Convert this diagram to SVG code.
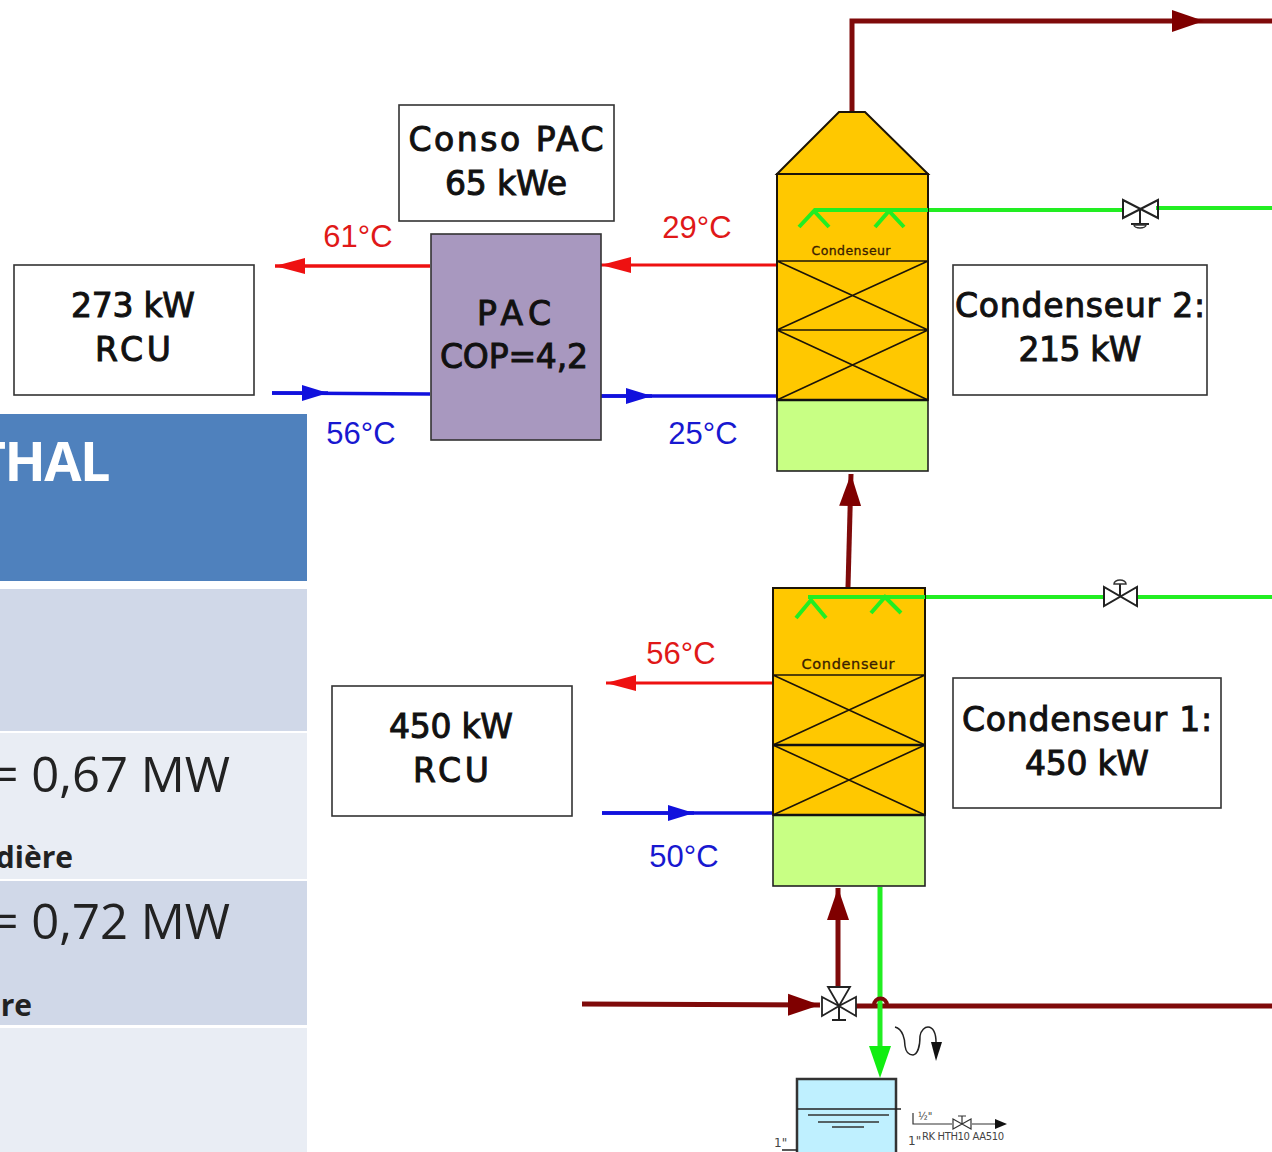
<svg xmlns="http://www.w3.org/2000/svg" width="1272" height="1152" viewBox="0 0 1272 1152">
<defs>
<marker id="ad" markerUnits="userSpaceOnUse" markerWidth="32" markerHeight="26" refX="32" refY="13" orient="auto"><path d="M0 2L32 13L0 24Z" fill="#7f0000"/></marker>
<marker id="ar" markerUnits="userSpaceOnUse" markerWidth="30" markerHeight="20" refX="30" refY="10" orient="auto"><path d="M0 2L30 10L0 18Z" fill="#ee1111"/></marker>
<marker id="ab" markerUnits="userSpaceOnUse" markerWidth="26" markerHeight="20" refX="26" refY="10" orient="auto"><path d="M0 2L26 10L0 18Z" fill="#1111dd"/></marker>
<marker id="ag" markerUnits="userSpaceOnUse" markerWidth="32" markerHeight="24" refX="4" refY="12" orient="auto"><path d="M0 1L32 12L0 23Z" fill="#11ee11"/></marker>
</defs>
<style>
text{font-family:"DejaVu Sans",sans-serif}
.lb{font-size:33px;fill:#111;stroke:#111;stroke-width:1;text-anchor:middle}
.t{font-size:31px;text-anchor:middle;font-family:"Liberation Sans",Arial,sans-serif}
.box{fill:#fff;stroke:#333;stroke-width:1.6}
.col{fill:#ffc800;stroke:#1c1408;stroke-width:2}
.base{fill:#c8ff84;stroke:#222;stroke-width:1.6}
.ln{fill:none;stroke:#1c1408;stroke-width:1.6}
.bk{fill:none;stroke:#222;stroke-width:2}
.dred{fill:none;stroke:#7f0a0a;stroke-width:5}
.red{fill:none;stroke:#ee1111;stroke-width:3.5}
.blue{fill:none;stroke:#1111dd;stroke-width:3.5}
.green{fill:none;stroke:#22ee22;stroke-width:4}
.cd{fill:#3a2000;text-anchor:middle;stroke:#3a2000;stroke-width:.3}
.tb{font-family:"Open Sans",sans-serif}
.mw{font-size:49px;fill:#222}
.bd{font-size:30px;font-weight:700;fill:#222}
</style>

<g id="table">
<rect x="0" y="414" width="307" height="167" fill="#4f81bd"/>
<rect x="0" y="589" width="307" height="142" fill="#d0d8e8"/>
<rect x="0" y="733" width="307" height="146" fill="#e9edf4"/>
<rect x="0" y="881" width="307" height="144" fill="#d0d8e8"/>
<rect x="0" y="1028" width="307" height="124" fill="#e9edf4"/>
<text class="tb" x="109" y="481" text-anchor="end" font-size="54" font-weight="700" fill="#fff" letter-spacing="-1.5">THAL</text>
<text class="tb mw" x="230" y="792" text-anchor="end">= 0,67 MW</text>
<text class="tb bd" x="73" y="868" text-anchor="end">dière</text>
<text class="tb mw" x="230" y="939" text-anchor="end">= 0,72 MW</text>
<text class="tb bd" x="32" y="1016" text-anchor="end">re</text>
</g>

<g id="connectors">
<path class="dred" d="M852 112V21H1204" marker-end="url(#ad)"/>
<path class="dred" d="M1204 21H1272"/>
<path class="dred" d="M848 587L851 474" marker-end="url(#ad)"/>
<path class="dred" d="M838 986V888" marker-end="url(#ad)"/>
<path class="dred" d="M582 1004L820 1005" marker-end="url(#ad)"/>
<path class="dred" d="M856 1006H1272"/>
<path class="red" d="M430 266H275" marker-end="url(#ar)"/>
<path class="red" d="M777 265H601" style="stroke-width:3" marker-end="url(#ar)"/>
<path class="red" d="M774 683H606" style="stroke-width:3" marker-end="url(#ar)"/>
<path class="blue" d="M272 393L430 394"/>
<path class="blue" d="M272 393L328 393" marker-end="url(#ab)"/>
<path class="blue" d="M601 396H777"/>
<path class="blue" d="M601 396H652" marker-end="url(#ab)"/>
<path class="blue" d="M602 813H774"/>
<path class="blue" d="M602 813H694" marker-end="url(#ab)"/>
<path class="green" d="M1156 208H1272"/>
<path class="green" d="M814 210H1124"/>
<path class="green" d="M808 597H1104"/>
<path class="green" d="M1138 597H1272"/>
<path class="green" d="M880 887V1050" style="stroke-width:5" marker-end="url(#ag)"/>
<path d="M874 1005a6 6 0 0 1 13 0" fill="none" stroke="#7f0a0a" stroke-width="4"/>
</g>

<g id="column2">
<path class="col" d="M777 174L839 112H865L928 174Z"/>
<rect class="col" x="777" y="174" width="151" height="226"/>
<rect class="base" x="777" y="400" width="151" height="71"/>
<path class="ln" d="M777 261H928M777 330H928M777 261L928 330M928 261L777 330M777 330L928 400M928 330L777 400"/>
<path d="M777 400H928" stroke="#111" stroke-width="2.5"/>
<path class="green" d="M814 210H928M799 227L814 211L829 227M875 227L889 211L904 227"/>
<text class="cd" x="851" y="255" font-size="12.5" textLength="79">Condenseur</text>
</g>

<g id="column1">
<rect class="col" x="773" y="588" width="152" height="227"/>
<rect class="base" x="773" y="815" width="152" height="71"/>
<path class="ln" d="M773 675H925M773 675L925 745M925 675L773 745M773 745L925 815M925 745L773 815"/>
<path d="M773 745H925M773 815H925" stroke="#111" stroke-width="2.5"/>
<path class="green" d="M808 597H925M796 618L811 600L826 618M871 613L885 597L901 613"/>
<text class="cd" x="848" y="669" font-size="14.5" textLength="93">Condenseur</text>
</g>

<g id="conso"><rect class="box" x="399" y="105" width="215" height="116"/><text class="lb" x="506" y="151" textLength="195">Conso PAC</text><text class="lb" x="506" y="195" textLength="122">65 kWe</text></g>
<g id="pac"><rect x="431" y="234" width="170" height="206" fill="#a898bf" stroke="#333" stroke-width="1.6"/><text class="lb" x="514" y="325" textLength="74">PAC</text><text class="lb" x="514" y="368" textLength="148">COP=4,2</text></g>
<g id="rcu273"><rect class="box" x="14" y="265" width="240" height="130"/><text class="lb" x="133" y="317" textLength="124">273 kW</text><text class="lb" x="133" y="361" textLength="76">RCU</text></g>
<g id="cond2"><rect class="box" x="953" y="265" width="254" height="130"/><text class="lb" x="1080" y="317" textLength="250">Condenseur 2:</text><text class="lb" x="1080" y="361" textLength="123">215 kW</text></g>
<g id="rcu450"><rect class="box" x="332" y="686" width="240" height="130"/><text class="lb" x="451" y="738" textLength="124">450 kW</text><text class="lb" x="451" y="782" textLength="76">RCU</text></g>
<g id="cond1"><rect class="box" x="953" y="678" width="268" height="130"/><text class="lb" x="1087" y="731" textLength="250">Condenseur 1:</text><text class="lb" x="1087" y="775" textLength="124">450 kW</text></g>

<g id="temps">
<text class="t" x="358" y="247" fill="#e01818">61°C</text>
<text class="t" x="697" y="238" fill="#e01818">29°C</text>
<text class="t" x="361" y="444" fill="#1818d0">56°C</text>
<text class="t" x="703" y="444" fill="#1818d0">25°C</text>
<text class="t" x="681" y="664" fill="#e01818">56°C</text>
<text class="t" x="684" y="867" fill="#1818d0">50°C</text>
</g>

<g id="valve-top"><path class="bk" d="M1123 200V218L1158 200V218ZM1140 209V224M1131 224H1149"/><path d="M1134 225h12a6 3 0 0 1 -12 0Z" fill="none" stroke="#333" stroke-width="1.5"/></g>
<g id="valve-mid"><path class="bk" d="M1104 587V606L1137 587V606ZM1120 596V584"/><path d="M1114 584a6 4 0 0 1 12 0Z" fill="none" stroke="#333" stroke-width="1.5"/></g>
<g id="valve-3way"><path d="M839 1006L828 987H850ZM839 1006L822 997V1016ZM839 1006L856 997V1016Z" fill="#fff" stroke="#222" stroke-width="1.8"/><path class="bk" d="M839 1006V1020M832 1020H846"/></g>

<g id="siphon"><path d="M895 1027C903 1029 905 1040 905 1046C906 1053 910 1055 913 1055C918 1054 920 1045 920 1036C921 1030 925 1027 928 1027C933 1027 936 1033 936 1042" fill="none" stroke="#222" stroke-width="1.5"/><path d="M931 1042H942L936 1061Z" fill="#111"/></g>

<g id="tank">
<rect x="797" y="1079" width="99" height="80" fill="#bff0ff" stroke="#333" stroke-width="2.5"/>
<path d="M797 1109H901" stroke="#222" stroke-width="1.5"/>
<path d="M808 1115H889M818 1122H879M832 1127H864" stroke="#333" stroke-width="1.5"/>
<path d="M782 1150H797" stroke="#222" stroke-width="1.5"/>
<path d="M913 1113V1124H952M972 1124H1000" fill="none" stroke="#333" stroke-width="1.2"/>
<path d="M953 1119V1129L971 1119V1129ZM962 1124V1116M958 1116H966" fill="none" stroke="#333" stroke-width="1.2"/>
<path d="M995 1119L1007 1124L995 1129Z" fill="#111"/>
<g font-family="Liberation Sans,Arial,sans-serif" fill="#444">
<text x="918" y="1120" font-size="10">½"</text>
<text x="774" y="1147" font-size="12">1"</text>
<text x="908" y="1145" font-size="12">1"</text>
<text x="922" y="1140" font-size="10" textLength="82">RK HTH10 AA510</text>
</g>
</g>
</svg>
